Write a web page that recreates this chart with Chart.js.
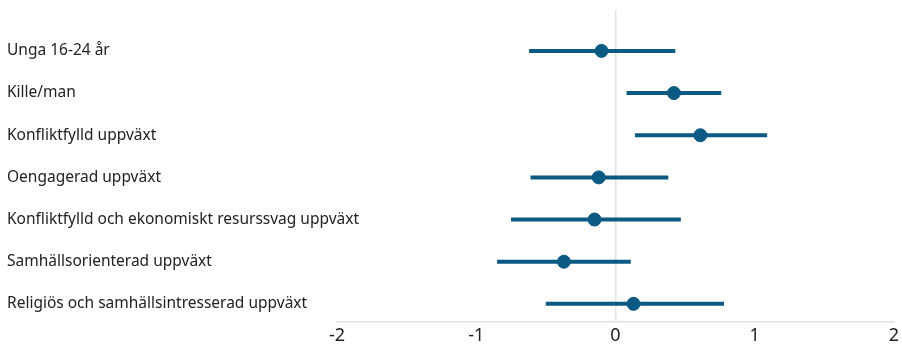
<!DOCTYPE html>
<html>
<head>
<meta charset="utf-8">
<script src="https://cdn.jsdelivr.net/npm/chart.js@4"></script>
<style>
  html, body { margin: 0; padding: 0; background: #fff; }
  #wrap { width: 902px; height: 362px; }
</style>
</head>
<body>
<div id="wrap"><canvas id="forestChart" width="902" height="362"></canvas></div>
<script>
const categories = [
  "Unga 16-24 år",
  "Kille/man",
  "Konfliktfylld uppväxt",
  "Oengagerad uppväxt",
  "Konfliktfylld och ekonomiskt resurssvag uppväxt",
  "Samhällsorienterad uppväxt",
  "Religiös och samhällsintresserad uppväxt"
];
const estimates = [-0.10, 0.42, 0.61, -0.12, -0.15, -0.37, 0.13];
const lowerBounds = [-0.62, 0.08, 0.14, -0.61, -0.75, -0.85, -0.50];
const upperBounds = [0.43, 0.76, 1.09, 0.38, 0.47, 0.11, 0.78];
const xTicks = [-2, -1, 0, 1, 2];

const mainColor = "#0a5a84";
const font = "'Noto Sans', 'Open Sans', sans-serif";

// one short line per row for the interval
const intervalSets = categories.map((cat, i) => ({
  label: cat,
  data: [
    { x: lowerBounds[i], y: i + 1 },
    { x: upperBounds[i], y: i + 1 }
  ],
  showLine: true,
  borderColor: mainColor,
  borderWidth: 4,
  borderCapStyle: "butt",
  pointRadius: 0,
  order: 2
}));

const pointSet = {
  label: "Skattning",
  data: estimates.map((v, i) => ({ x: v, y: i + 1 })),
  backgroundColor: mainColor,
  borderColor: mainColor,
  pointRadius: 6.5,
  order: 1
};

const ctx = document.getElementById("forestChart").getContext("2d");

new Chart(ctx, {
  type: "scatter",
  data: { datasets: [...intervalSets, pointSet] },
  options: {
    responsive: false,
    animation: false,
    layout: { padding: { top: 10, left: 7, right: 6, bottom: 0 } },
    plugins: {
      legend: { display: false },
      tooltip: { enabled: false }
    },
    scales: {
      x: {
        type: "linear",
        min: -2,
        max: 2,
        afterBuildTicks: (scale) => {
          scale.ticks = xTicks.map((v) => ({ value: v }));
        },
        afterFit: (scale) => {
          scale.height = 40;
        },
        grid: {
          drawTicks: false,
          color: (c) => (c.tick && c.tick.value === 0 ? "#e2e2e2" : "rgba(0,0,0,0)"),
          lineWidth: 1.5
        },
        border: { display: true, color: "#e2e2e2", width: 1.5 },
        ticks: {
          padding: 3,
          color: "#222",
          font: { family: font, size: 18 },
          callback: (v) => String(v).replace("\u2212", "-")
        }
      },
      y: {
        type: "linear",
        reverse: true,
        min: 0.03,
        max: 7.43,
        afterBuildTicks: (scale) => {
          scale.ticks = categories.map((c, i) => ({ value: i + 1 }));
        },
        afterFit: (scale) => {
          scale.width = 330;
        },
        grid: { display: false, drawTicks: false },
        border: { display: false },
        ticks: {
          // mirrored so long labels may run into the plot area unclipped
          mirror: true,
          crossAlign: "near",
          padding: -330,
          color: "#222",
          font: { family: font, size: 15.5 },
          callback: (v) => categories[v - 1] || ""
        }
      }
    }
  }
});
</script>
</body>
</html>
